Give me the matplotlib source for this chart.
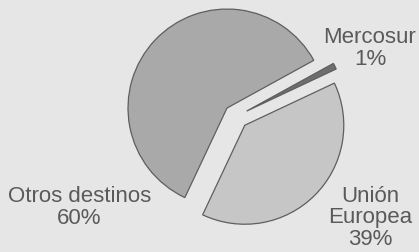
import matplotlib.pyplot as plt

labels = ['Unión\nEuropea', 'Mercosur', 'Otros destinos']
shares = [39, 1, 60]
colors = ['#c6c6c6', '#6e6e6e', '#a9a9a9']
explode = [0.125, 0.12, 0.125]

plt.rcParams['font.family'] = ['Liberation Sans', 'DejaVu Sans']

fig = plt.figure(figsize=(4.19, 2.52), dpi=100)
fig.patch.set_facecolor('#e6e6e6')
ax = fig.add_axes([0, 0, 1, 1])
ax.set_facecolor('#e6e6e6')

ax.pie(shares, explode=explode, colors=colors, startangle=-115.2,
       radius=1, wedgeprops={'edgecolor': '#5e5e5e', 'linewidth': 0.9})

ax.set_xlim(-2.384, 1.848)
ax.set_ylim(-1.369, 1.177)
ax.set_aspect('auto')
ax.axis('off')

txt = dict(ha='center', va='center', color='#5a5a5a', fontsize=16, linespacing=1.05)
fig.text(0.883, 0.806, labels[1] + '\n' + str(shares[1]) + '%', **txt)
fig.text(0.883, 0.135, labels[0] + '\n' + str(shares[0]) + '%', **txt)
fig.text(0.189, 0.175, labels[2] + '\n' + str(shares[2]) + '%', **txt)

fig.savefig('out.png', dpi=100, facecolor=fig.get_facecolor())
